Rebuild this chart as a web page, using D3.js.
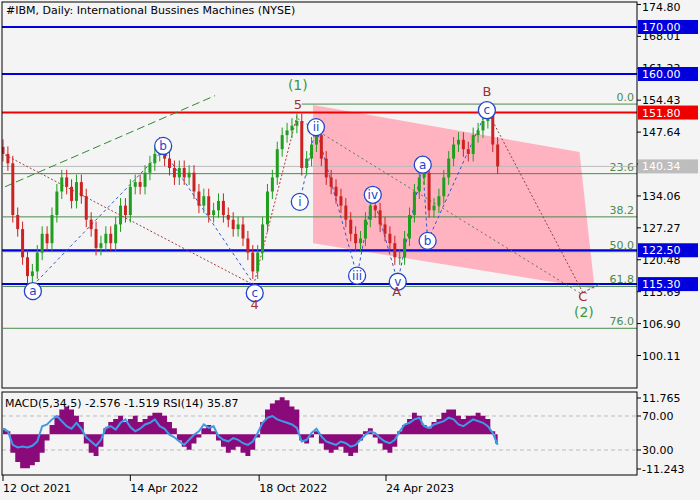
<!DOCTYPE html><html><head><meta charset="utf-8">
<script src="https://cdn.jsdelivr.net/npm/d3@7"></script>
<style>body{margin:0;background:#f4f4f4}svg{font-family:"DejaVu Sans",sans-serif}</style></head><body>
<svg id="c" width="700" height="500"></svg>
<script>
const closes=[143,141,130,127,121,117,118,122,126,124,130,135,138,136,133,137,134,129,127,123,124,126,124,128,132,130,136,137,136,139,141,143,145,142,140,138,140,138,139,135,132,134,130,131,133,130,129,127,128,125,122,118,122,128,135,138,144,147,148,149,150,140,142,145,147,142,138,136,134,132,129,126,124,125,129,132,131,128,126,124,121,121,125,130,135,138,139,131,132,134,138,142,145,146,144,143,147,148,150,152,145,140.34];
const macdHist=[2,1,-6,-9,-11,-11,-10,-9,-6,-2,3,6,8,9,8,6,4,-3,-6,-7,-4,2,4,5,6,4,5,6,4,5,6,7,7,6,4,2,-2,-4,-5,-3,-1,2,3,1,-2,-4,-6,-5,-4,-6,-7,-5,-1,4,8,10,11,12,11,9,8,-2,-3,-1,1,-3,-5,-6,-5,-4,-6,-7,-6,-2,1,2,-1,-3,-5,-6,-4,1,3,5,7,6,3,2,4,5,7,8,8,6,5,6,6,7,6,5,1,-3];
const rsi=[55,52,36,33,34,33,35,40,58,60,66,70,64,58,55,62,55,45,40,35,42,56,58,54,62,66,57,52,55,60,62,66,58,55,48,45,40,36,42,48,52,60,56,58,46,42,40,44,42,38,36,40,50,62,68,70,66,64,62,60,56,40,42,50,55,46,40,38,36,40,38,34,36,42,48,52,50,44,40,38,42,52,60,62,66,68,58,56,60,62,64,68,66,60,58,62,66,64,62,58,50,36];
const priceTicks=[174.80,168.01,161.22,154.43,147.64,140.85,134.06,127.27,120.48,113.69,106.90,100.11];
const dateTicks=[{i:0,t:"12 Oct 2021"},{i:26,t:"14 Apr 2022"},{i:52.3,t:"18 Oct 2022"},{i:78.2,t:"24 Apr 2023"}];
const hLines=[{p:170,c:"#0000dd",l:"170.00"},{p:160,c:"#0000dd",l:"160.00"},{p:151.8,c:"#ee0000",l:"151.80"},{p:122.5,c:"#0000dd",l:"122.50"},{p:115.3,c:"#0000dd",l:"115.30"}];
const fibLevels=[{p:153.6,l:"0.0",from:61},{p:138.8,l:"23.6",from:0},{p:129.6,l:"38.2",from:0},{p:122.2,l:"50.0",from:0},{p:114.8,l:"61.8",from:0},{p:105.9,l:"76.0",from:0}];
const lastPrice=140.34;
const circles=[["a",6.1,113.8],["b",32.7,144.7],["c",51.4,113.4],["i",60.6,132.8],["ii",63.9,148.7],["iii",72.3,117.1],["iv",75.5,134.3],["v",80.6,115.8],["a",85.7,140.7],["b",86.7,124.5],["c",98.8,152.3]];
const waveLabels=[["(1)",60.2,156.6,"#3a9a3a",14],["5",60.2,152.5,"#a03030",13],["4",51.4,110,"#a03030",13],["B",98.8,155.3,"#a03030",13],["A",80.4,112.7,"#a03030",13],["C",118.4,111.6,"#a03030",13],["(2)",118.6,108.4,"#3a9a3a",14]];
const channel=[[63.3,153.4],[117.7,143.4],[120.8,114.3],[63.3,124]];
const W=700,H=500,L=2,R=637,T=2,B=388;
const svg=d3.select("#c");
const x=d3.scaleLinear().domain([0,78.2]).range([3,386]);
const y=d3.scaleLinear().domain([170,100.11]).range([27,355.5]);
const yh=d3.scaleLinear().domain([11.765,-11.243]).range([398,469]);
const yr=d3.scaleLinear().domain([70,30]).range([416,450]);
svg.append("rect").attr("width",W).attr("height",H).attr("fill","#f4f4f4");
svg.append("defs").append("clipPath").attr("id","cp").append("rect").attr("x",L).attr("y",T).attr("width",R-L).attr("height",B-T);
const g=svg.append("g").attr("clip-path","url(#cp)");
g.append("polygon").attr("points",channel.map(d=>[x(d[0]),y(d[1])].join(",")).join(" ")).attr("fill","#ffb3c0");
fibLevels.forEach(f=>{g.append("line").attr("x1",x(f.from)).attr("x2",R).attr("y1",y(f.p)).attr("y2",y(f.p)).attr("stroke","#4c8a4c").attr("stroke-width",1);
 g.append("text").attr("x",R-3).attr("y",y(f.p)-3).attr("text-anchor","end").attr("font-size",11).attr("fill","#4c8a4c").text(f.l);});
g.append("line").attr("x1",L).attr("x2",R).attr("y1",y(lastPrice)).attr("y2",y(lastPrice)).attr("stroke","#bbb");
hLines.forEach(h=>g.append("line").attr("x1",L).attr("x2",R).attr("y1",y(h.p)).attr("y2",y(h.p)).attr("stroke",h.c).attr("stroke-width",2));
const ln=(pts,col,dash,w=1)=>g.append("path").attr("d",d3.line()(pts.map(p=>[x(p[0]),y(p[1])]))).attr("fill","none").attr("stroke",col).attr("stroke-dasharray",dash).attr("stroke-width",w);
ln([[0.4,136],[43.3,155.4]],"#2e8b2e","8,4");
ln([[0.4,142.8],[51.4,115]],"#a04040","2,2");
ln([[6.1,115],[32.7,143.8],[51.4,115]],"#3355cc","3,3");
ln([[51.4,116],[60,151]],"#c03030","2,2");
ln([[60.2,150.5],[118.4,113]],"#557755","2,3");
ln([[60.6,132.8],[63.9,148.7],[72.3,117.1],[75.5,134.3],[80.6,115.8],[85.7,140.7],[86.7,124.5],[98.8,152.3]],"#3355cc","3,3");
ln([[98.8,152.3],[118.4,113.5]],"#884444","2,2");
ln([[118.4,113.5],[121.8,115.3]],"#3355cc","3,2");
closes.forEach((c,i)=>{const o=i?closes[i-1]:c+1.5;const hi=Math.max(o,c)+1.6,lo=Math.min(o,c)-1.6;const col=c>=o?"#1f9e1f":"#cc2222";
 g.append("line").attr("x1",x(i)).attr("x2",x(i)).attr("y1",y(hi)).attr("y2",y(lo)).attr("stroke",col);
 g.append("rect").attr("x",x(i)-1.5).attr("width",3).attr("y",y(Math.max(o,c))).attr("height",Math.max(1,y(Math.min(o,c))-y(Math.max(o,c)))).attr("fill",col);});
circles.forEach(([t,i,p])=>{g.append("circle").attr("cx",x(i)).attr("cy",y(p)).attr("r",8.5).attr("fill","#fff").attr("stroke","#2244cc").attr("stroke-width",1.3);
 g.append("text").attr("x",x(i)).attr("y",y(p)+4).attr("text-anchor","middle").attr("font-size",12).attr("fill","#2244cc").text(t);});
waveLabels.forEach(([t,i,p,c,s])=>g.append("text").attr("x",x(i)).attr("y",y(p)).attr("text-anchor","middle").attr("font-size",s).attr("fill",c).text(t));
svg.append("rect").attr("x",L).attr("y",T).attr("width",R-L).attr("height",B-T).attr("fill","none").attr("stroke","#000");
priceTicks.forEach(p=>{svg.append("line").attr("x1",R).attr("x2",R+4).attr("y1",y(p)).attr("y2",y(p)).attr("stroke","#000");
 svg.append("text").attr("x",R+5).attr("y",Math.max(11,y(p)+4)).attr("font-size",11).attr("fill","#000").text(p.toFixed(2));});
hLines.forEach(h=>{svg.append("rect").attr("x",R+1).attr("y",y(h.p)-7).attr("width",60).attr("height",14).attr("fill",h.c);
 svg.append("text").attr("x",R+5).attr("y",y(h.p)+4).attr("font-size",11).attr("fill","#fff").text(h.l);});
svg.append("rect").attr("x",R+1).attr("y",y(lastPrice)-7).attr("width",60).attr("height",14).attr("fill","#bdbdbd");
svg.append("text").attr("x",R+5).attr("y",y(lastPrice)+4).attr("font-size",11).attr("fill","#fff").text(lastPrice.toFixed(2));
svg.append("text").attr("x",6).attr("y",14).attr("font-size",11).text("#IBM, Daily:  International Bussines Machines (NYSE)");
const ig=svg.append("g");
[70,30].forEach(v=>ig.append("line").attr("x1",L).attr("x2",R).attr("y1",yr(v)).attr("y2",yr(v)).attr("stroke","#bbb").attr("stroke-dasharray","4,3"));
ig.append("path").attr("d",d3.area().x((d,i)=>x(i)).y0(yh(0)).y1(d=>yh(d)).curve(d3.curveStep)(macdHist)).attr("fill","#8b0a7a");
ig.append("path").attr("d",d3.line().x((d,i)=>x(i)).y(d=>yr(d))(rsi)).attr("fill","none").attr("stroke","#3d9be9").attr("stroke-width",2);
svg.append("rect").attr("x",L).attr("y",392).attr("width",R-L).attr("height",83).attr("fill","none").attr("stroke","#000");
svg.append("text").attr("x",5).attr("y",407).attr("font-size",11).text("MACD(5,34,5) -2.576 -1.519 RSI(14) 35.87");
[[yh(11.765),"11.765"],[yr(70),"70.00"],[yr(30),"30.00"],[yh(-11.243),"-11.243"]].forEach(([yy,t])=>{svg.append("line").attr("x1",R).attr("x2",R+4).attr("y1",yy).attr("y2",yy).attr("stroke","#000");
 svg.append("text").attr("x",R+5).attr("y",yy+4).attr("font-size",11).text(t);});
dateTicks.forEach(d=>{svg.append("line").attr("x1",x(d.i)).attr("x2",x(d.i)).attr("y1",475).attr("y2",481).attr("stroke","#000");
 svg.append("text").attr("x",x(d.i)).attr("y",492).attr("font-size",11).text(d.t);});
</script></body></html>
